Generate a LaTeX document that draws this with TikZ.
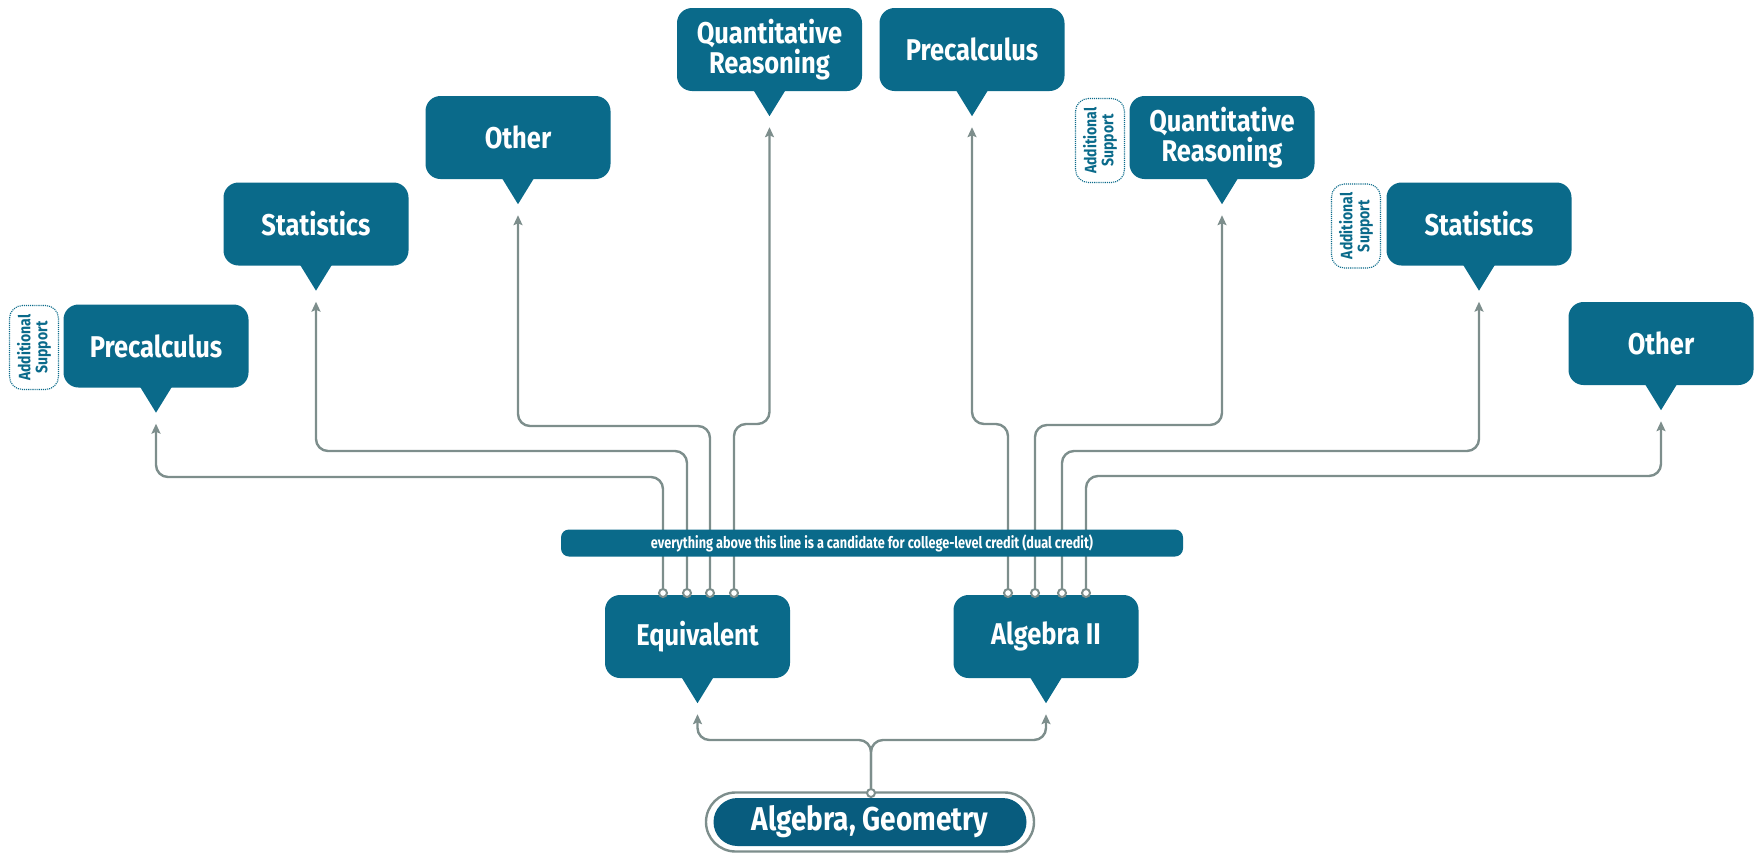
\documentclass[tikz,border=0pt]{standalone}
\usepackage{fontspec}
\setmainfont{Fira Sans}
\newfontfamily\condfont{Fira Sans}[FakeStretch=0.85]
\newfontfamily\barfont{Fira Sans}[FakeStretch=0.795]
\usetikzlibrary{arrows.meta,shapes.misc}
\definecolor{teal1}{RGB}{10,106,138}
\definecolor{teal2}{RGB}{8,92,126}
\definecolor{linegray}{RGB}{125,142,140}
\newcommand\bubtail[1]{\fill[teal1] ([xshift=-16pt,yshift=1pt]#1.south) -- ([xshift=16pt,yshift=1pt]#1.south) -- ([yshift=-25pt]#1.south) -- cycle;
\coordinate (#1-in) at ([yshift=-36pt]#1.south);}
\begin{document}
\begin{tikzpicture}[x=1pt,y=-1pt,
  bubble/.style={rectangle, rounded corners=15pt, fill=teal1, text=white,
    minimum width=185pt, minimum height=83pt, inner sep=0pt, align=center,
    font=\condfont\bfseries\fontsize{30}{27}\selectfont},
  addsup/.style={rectangle, rounded corners=13pt, draw=teal1, densely dotted, line width=1.1pt,
    rotate=90, minimum width=84pt, minimum height=49pt, inner sep=0pt, align=center,
    text=teal1, font=\condfont\bfseries\fontsize{16.5}{17}\selectfont},
  dot/.style={circle, draw=linegray, fill=white, line width=2pt, inner sep=0pt, minimum size=8pt},
  conn/.style={draw=linegray, line width=2.4pt, rounded corners=12pt,
    -{Stealth[length=10pt,width=9pt,inset=2pt]}},
  barbox/.style={rectangle, rounded corners=8pt, fill=teal1, text=white,
    minimum width=622pt, minimum height=27pt, inner sep=0pt,
    font=\barfont\bfseries\fontsize{16}{18}\selectfont},
]
\useasboundingbox (0,0) rectangle (1757,854);

% destination bubbles
\node[bubble] (pl) at (156,346) {Precalculus};
\node[bubble] (sl) at (316,224) {Statistics};
\node[bubble] (ol) at (518,137.5) {Other};
\node[bubble] (ql) at (769.5,49.5) {Quantitative\\Reasoning};
\node[bubble] (pr) at (972,49.5) {Precalculus};
\node[bubble] (qr) at (1222,137.5) {Quantitative\\Reasoning};
\node[bubble] (sr) at (1479,224) {Statistics};
\node[bubble] (or) at (1661,343.5) {Other};
\node[bubble] (eq) at (697.5,636.5) {Equivalent};
\node[bubble] (a2) at (1046,636.5) {Algebra II};
\foreach \n in {pl,sl,ol,ql,pr,qr,sr,or,eq,a2}{\bubtail{\n}}

% additional support tags
\node[addsup] (as1) at (34,347.5) {Additional\\Support};
\node[addsup] (as2) at (1100,140.5) {Additional\\Support};
\node[addsup] (as3) at (1356,226) {Additional\\Support};

% start points
\node[dot] (c1) at (663,593) {};
\node[dot] (c2) at (687,593) {};
\node[dot] (c3) at (710,593) {};
\node[dot] (c4) at (734,593) {};
\node[dot] (d1) at (1008,593) {};
\node[dot] (d2) at (1035,593) {};
\node[dot] (d3) at (1062,593) {};
\node[dot] (d4) at (1086,593) {};

% connectors
\draw[conn] (c1.north) -- ++(0,-111) -| (pl-in);
\draw[conn] (c2.north) -- ++(0,-137) -| (sl-in);
\draw[conn] (c3.north) -- ++(0,-162) -| (ol-in);
\draw[conn] (c4.north) -- ++(0,-164) -| (ql-in);
\draw[conn] (d1.north) -- ++(0,-164) -| (pr-in);
\draw[conn] (d2.north) -- ++(0,-163) -| (qr-in);
\draw[conn] (d3.north) -- ++(0,-137) -| (sr-in);
\draw[conn] (d4.north) -- ++(0,-112) -| (or-in);

% bar
\node[barbox] (bar) at (872,543) {everything above this line is a candidate for college-level credit (dual credit)};

% bottom pill
\node[rounded rectangle, draw=linegray, fill=white, line width=2.4pt,
  minimum width=328pt, minimum height=59pt, inner sep=0pt] (agout) at (870,822) {};
\node[rounded rectangle, fill=teal2, text=white, minimum width=313pt, minimum height=48pt,
  inner sep=0pt, font=\condfont\bfseries\fontsize{33}{33}\selectfont] (ag) at (870,822) {Algebra, Geometry};
\node[dot] (c0) at (871,793) {};
\draw[conn] (c0.north) -- ++(0,-48) -| (eq-in);
\draw[conn] (c0.north) -- ++(0,-48) -| (a2-in);
\end{tikzpicture}
\end{document}
